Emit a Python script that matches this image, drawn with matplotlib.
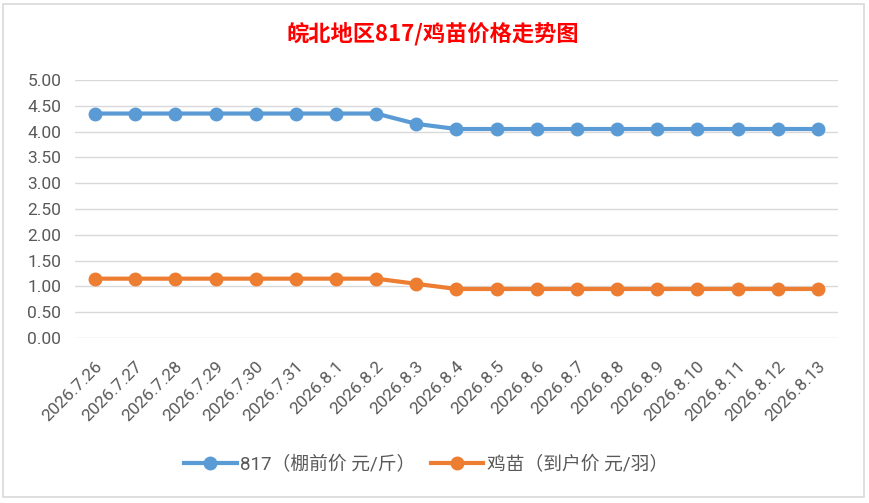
import numpy as np
import matplotlib
matplotlib.use("Agg")
import matplotlib.pyplot as plt
import matplotlib.transforms as mtransforms
from matplotlib.patches import Rectangle

plt.rcParams['font.family'] = ['Roboto', 'Noto Sans CJK SC', 'DejaVu Sans']

# data
dates = ['2026.7.26', '2026.7.27', '2026.7.28', '2026.7.29', '2026.7.30', '2026.7.31',
         '2026.8.1', '2026.8.2', '2026.8.3', '2026.8.4', '2026.8.5', '2026.8.6',
         '2026.8.7', '2026.8.8', '2026.8.9', '2026.8.10', '2026.8.11', '2026.8.12', '2026.8.13']
price_817 = [4.35, 4.35, 4.35, 4.35, 4.35, 4.35, 4.35, 4.35, 4.15, 4.05,
             4.05, 4.05, 4.05, 4.05, 4.05, 4.05, 4.05, 4.05, 4.05]
price_chick = [1.15, 1.15, 1.15, 1.15, 1.15, 1.15, 1.15, 1.15, 1.05, 0.95,
               0.95, 0.95, 0.95, 0.95, 0.95, 0.95, 0.95, 0.95, 0.95]
yticks = [0, 0.5, 1.0, 1.5, 2.0, 2.5, 3.0, 3.5, 4.0, 4.5, 5.0]
name_817 = '817（棚前价 元/斤）'
name_chick = '鸡苗（到户价 元/羽）'
title = '皖北地区817/鸡苗价格走势图'

W, H = 869, 503
fig = plt.figure(figsize=(W / 100, H / 100), dpi=100)

# chart border
fig.patches.append(Rectangle((3 / W, 1 - 497 / H), 861 / W, 493 / H, transform=fig.transFigure,
                             facecolor='none', edgecolor='#D9D9D9', linewidth=1.2, zorder=0))

ax = fig.add_axes([75 / W, 1 - 338 / H, (838 - 75) / W, (338 - 80) / H])
ax.set_facecolor('none')
x = np.arange(len(dates))

ax.plot(x, price_817, color='#5B9BD5', lw=3, marker='o', ms=9, label=name_817, zorder=3)
ax.plot(x, price_chick, color='#ED7D31', lw=3, marker='o', ms=9, label=name_chick, zorder=3)

ax.set_xlim(-0.5, len(dates) - 0.5)
ax.set_ylim(0, 5)
ax.set_yticks(yticks)
ax.set_yticklabels(['%.2f' % v for v in yticks], fontsize=12.5, color='#595959')
ax.grid(axis='y', color='#D9D9D9', lw=1)
ax.set_axisbelow(True)
for s in ax.spines.values():
    s.set_visible(False)
ax.tick_params(axis='both', length=0)
ax.tick_params(axis='y', pad=10)

ax.set_xticks(x)
ax.set_xticklabels(dates, fontsize=12.5, color='#595959', rotation=45,
                   ha='right', va='center', rotation_mode='anchor')
offset = mtransforms.ScaledTranslation(5 / 100, -21 / 100, fig.dpi_scale_trans)
for lab in ax.get_xticklabels():
    lab.set_transform(lab.get_transform() + offset)

fig.text(433 / W, 1 - 34 / H, title, ha='center', va='center', fontsize=16,
         fontweight='bold', color='#FF0000', family=['Noto Sans CJK SC', 'DejaVu Sans'])

leg = fig.legend(loc='center', bbox_to_anchor=(426 / W, 1 - 465 / H), ncol=2, frameon=False,
                 fontsize=13.5, handlelength=2.8, columnspacing=0.8, handletextpad=0.2)
for t in leg.get_texts():
    t.set_color('#595959')

fig.savefig('out.png', dpi=100)
